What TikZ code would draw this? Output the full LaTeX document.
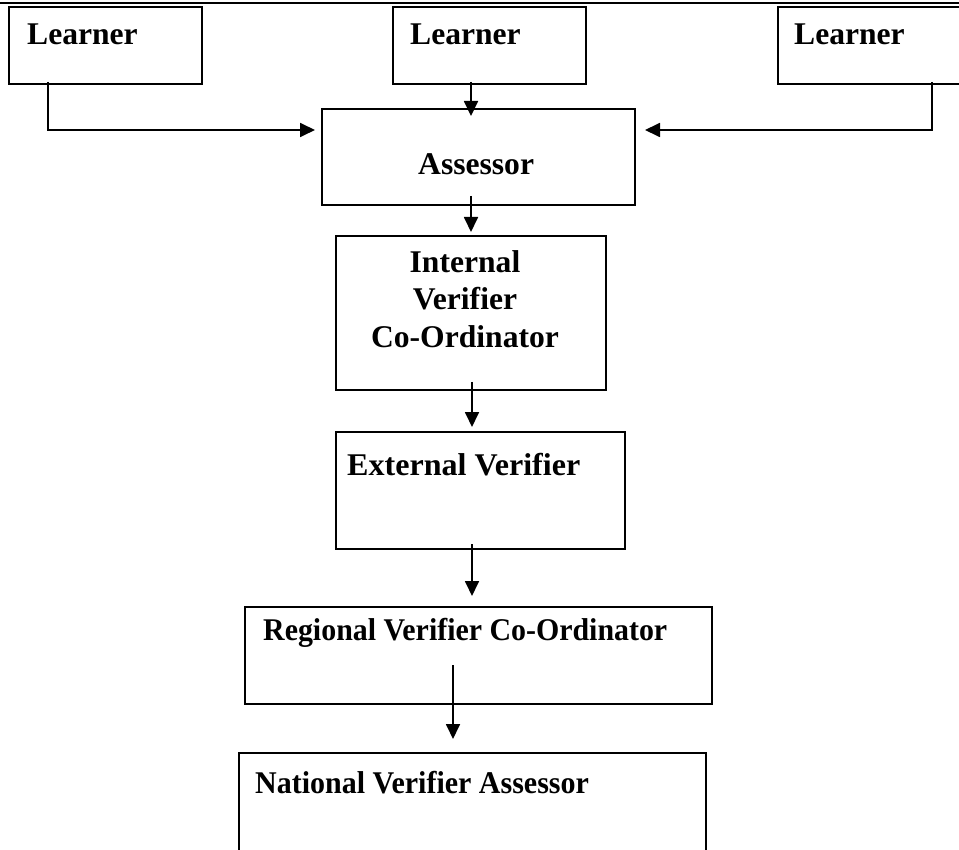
\documentclass[tikz,border=0pt]{standalone}
\usepackage{fontspec}
\setmainfont{Liberation Serif}
\usetikzlibrary{arrows.meta}
\begin{document}
\begin{tikzpicture}[x=1pt,y=-1pt,
  box/.style={draw,line width=2pt,rectangle,inner sep=0pt},
  lbl/.style={inner sep=0pt,anchor=base west,font=\fontsize{31.6}{37.5}\selectfont\bfseries},
  arr/.style={line width=1.8pt,-{Triangle[length=15pt,width=14pt]}}]
\useasboundingbox (0,0) rectangle (959,850);
\clip (0,0) rectangle (959,850);
\coordinate (tl) at (0,3);
\coordinate (tr) at (959,3);
\draw[line width=2pt] (tl) -- (tr);
% boxes
\node[box,minimum width=193pt,minimum height=77pt] (l1) at (105.5,45.5) {};
\node[box,minimum width=193pt,minimum height=77pt] (l2) at (489.5,45.5) {};
\node[box,minimum width=193pt,minimum height=77pt] (l3) at (874.5,45.5) {};
\node[box,minimum width=313pt,minimum height=96pt] (as) at (478.5,157) {};
\node[box,minimum width=270pt,minimum height=154pt] (in) at (471,313) {};
\node[box,minimum width=289pt,minimum height=117pt] (ex) at (480.5,490.5) {};
\node[box,minimum width=467pt,minimum height=97pt] (rg) at (478.5,655.5) {};
\node[box,minimum width=467pt,minimum height=117pt] (na) at (472.5,811.5) {};
% labels
\node[lbl] (l1t) at (27,45) {Learner};
\node[lbl] (l2t) at (410,45) {Learner};
\node[lbl] (l3t) at (794,45) {Learner};
\node[lbl] (ast) at (418,175) {Assessor};
\node[inner sep=0pt,align=center,font=\fontsize{31.6}{37.5}\selectfont\bfseries] (int) at (465,299) {Internal\\Verifier\\Co-Ordinator};
\node[lbl,xscale=1.015,transform shape] (ext) at (347,475) {External Verifier};
\node[lbl,xscale=0.946,transform shape] (rgt) at (263,640) {Regional Verifier Co-Ordinator};
\node[lbl,xscale=0.949,transform shape] (nat) at (255,793) {National Verifier Assessor};
% connectors
\draw[arr] ([xshift=-57.5pt,yshift=3pt]l1.south) |- ([xshift=-6pt,yshift=27pt]as.west);
\draw[arr] ([xshift=57.5pt,yshift=3pt]l3.south) |- ([xshift=9pt,yshift=27pt]as.east);
\draw[arr] ([xshift=-18.5pt,yshift=3pt]l2.south) -- ([xshift=-7.5pt,yshift=-8pt]as.north);
\draw[arr] ([xshift=-7.5pt,yshift=10pt]as.south) -- ([yshift=3pt]in.north);
\draw[arr] ([xshift=1pt,yshift=9pt]in.south) -- ([xshift=-8.5pt,yshift=4pt]ex.north);
\draw[arr] ([xshift=-8.5pt,yshift=6pt]ex.south) -- ([xshift=-6.5pt,yshift=10pt]rg.north);
\draw[arr] ([xshift=-25.5pt,yshift=40pt]rg.south) -- ([xshift=-19.5pt,yshift=13pt]na.north);
\end{tikzpicture}
\end{document}
